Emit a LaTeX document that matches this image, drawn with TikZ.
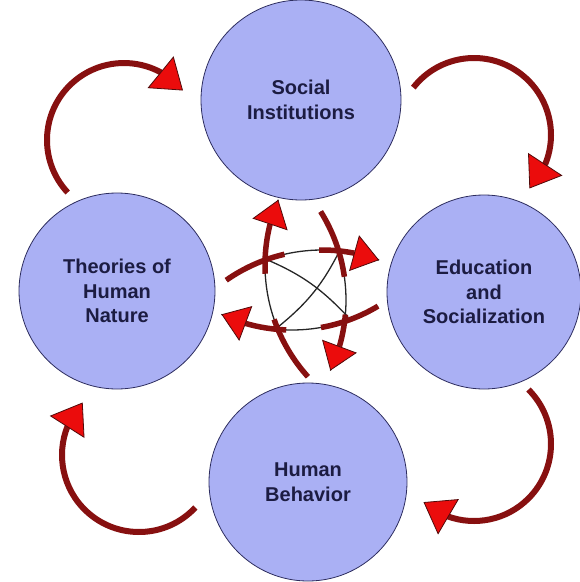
\documentclass[tikz,border=0pt]{standalone}
\usepackage{fontspec}
\setmainfont{Liberation Sans}
\usetikzlibrary{arrows.meta,bending}
\definecolor{bubble}{RGB}{170,176,244}
\definecolor{bubbleline}{RGB}{45,45,95}
\definecolor{bubbletext}{RGB}{28,28,66}
\definecolor{arcred}{RGB}{135,16,16}
\definecolor{tipred}{RGB}{235,12,12}
\tikzset{
  topic/.style={circle,draw=bubbleline,line width=0.8pt,fill=bubble,text=bubbletext,
    align=center,inner sep=0pt,font=\fontsize{20}{24.5}\selectfont\bfseries},
  outarc/.style={arcred,line width=6pt,
    -{Triangle[length=29pt,width=41pt,line width=0.8pt,color=arcred!60!black,fill=tipred]}},
  inarc/.style={arcred,line width=5.5pt},
  inhead/.style={-{Triangle[length=26pt,width=37pt,line width=0.8pt,color=arcred!60!black,fill=tipred]}},
  midline/.style={black!85,line width=1.3pt},
}

\begin{document}
\begin{tikzpicture}[x=1pt,y=1pt]
\useasboundingbox (0,0) rectangle (580,-582);
% the four topics
\node[topic,minimum size=200pt] (soc) at (301,-100) {Social\\Institutions};
\node[topic,minimum size=196pt] (theo) at (117,-291) {Theories of\\Human\\Nature};
\node[topic,minimum size=194pt] (edu) at (484,-292) {Education\\and\\Socialization};
\node[topic,minimum size=198pt] (beh) at (308,-482) {Human\\Behavior};
% outer cycle
\coordinate (otl) at (124,-140);
\coordinate (otr) at (474,-135);
\coordinate (obr) at (474,-444);
\coordinate (obl) at (139,-455);
\draw[outarc] ([shift={(223:77)}]otl) arc[start angle=223,end angle=40,radius=77];
\draw[outarc] ([shift={(142:77)}]otr) arc[start angle=142,end angle=-44,radius=77];
\draw[outarc] ([shift={(45:77)}]obr) arc[start angle=45,end angle=-131,radius=77];
\draw[outarc] ([shift={(-43:77)}]obl) arc[start angle=-43,end angle=-223,radius=77];
% centre knot
\coordinate (iup) at (432,-265);
\coordinate (iright) at (322,-417);
\coordinate (idown) at (179,-300);
\coordinate (ileft) at (292,-163);
\coordinate (k1) at (263,-258);
\coordinate (k2) at (340,-250);
\coordinate (k3) at (348,-317);
\coordinate (k4) at (278,-327);
\draw[midline] ([shift={(222:167)}]iup) arc[start angle=222,end angle=157,radius=167];
\draw[midline] ([shift={(125:167)}]iright) arc[start angle=125,end angle=70,radius=167];
\draw[midline] ([shift={(32:167)}]idown) arc[start angle=32,end angle=-25,radius=167];
\draw[midline] ([shift={(-59:167)}]ileft) arc[start angle=-59,end angle=-115,radius=167];
\draw[midline] (k1) to[bend left=12] (k3);
\draw[midline] (k2) to[bend left=12] (k4);
\draw[inarc] ([shift={(222:167)}]iup) arc[start angle=222,end angle=199,radius=167];
\draw[inarc,inhead] ([shift={(183:167)}]iup) arc[start angle=183,end angle=157,radius=167];
\draw[inarc] ([shift={(125:167)}]iright) arc[start angle=125,end angle=103,radius=167];
\draw[inarc,inhead] ([shift={(91:167)}]iright) arc[start angle=91,end angle=70,radius=167];
\draw[inarc] ([shift={(32:167)}]idown) arc[start angle=32,end angle=8,radius=167];
\draw[inarc,inhead] ([shift={(-5:167)}]idown) arc[start angle=-5,end angle=-25,radius=167];
\draw[inarc] ([shift={(-59:167)}]ileft) arc[start angle=-59,end angle=-80,radius=167];
\draw[inarc,inhead] ([shift={(-92:167)}]ileft) arc[start angle=-92,end angle=-115,radius=167];
\end{tikzpicture}
\end{document}
